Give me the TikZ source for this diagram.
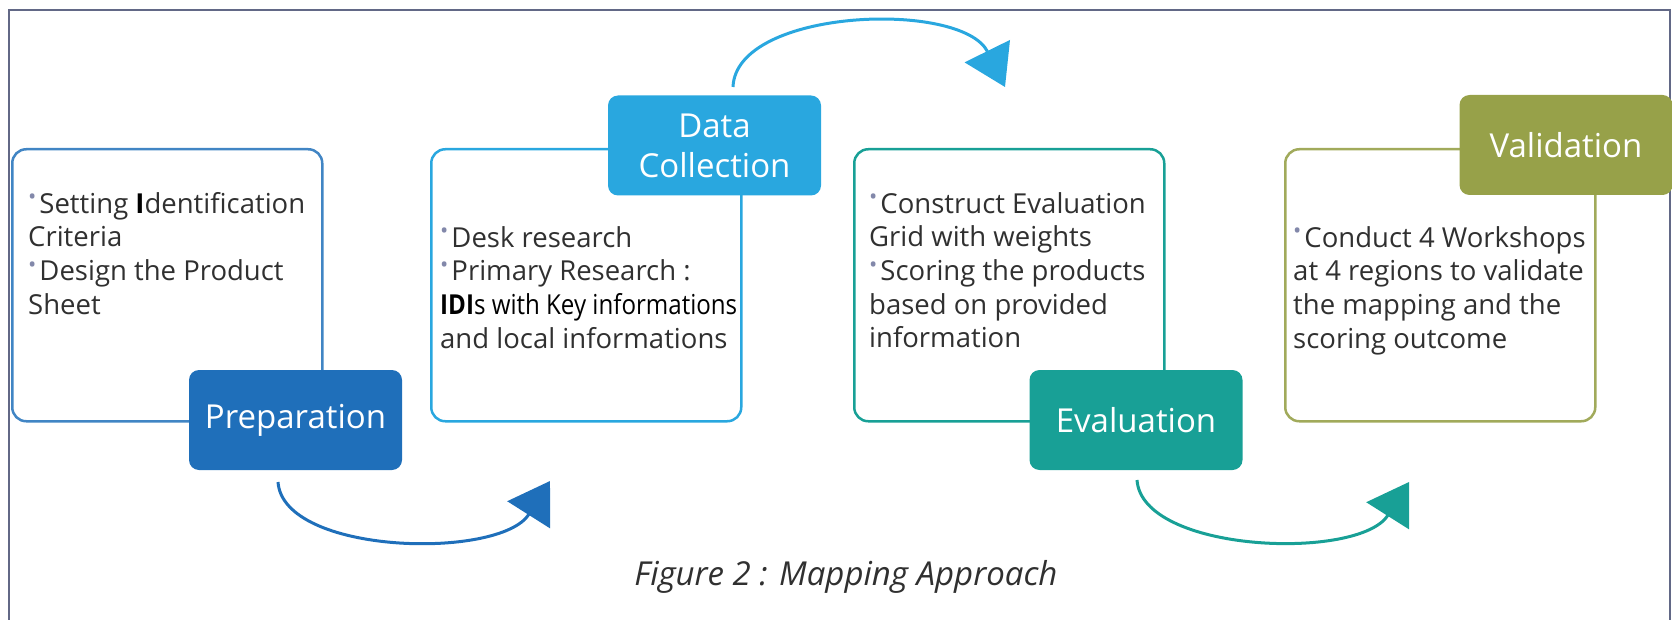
\documentclass[tikz,border=0pt]{standalone}
\usepackage{fontspec}
\setmainfont{Open Sans}
\usepackage{graphicx}
\usetikzlibrary{arrows.meta}

\definecolor{prepblue}{RGB}{31,111,186}
\definecolor{datablue}{RGB}{41,167,223}
\definecolor{evalteal}{RGB}{24,160,150}
\definecolor{validolive}{RGB}{151,161,73}
\definecolor{framegray}{RGB}{98,104,134}
\definecolor{bodygray}{RGB}{48,48,48}
\definecolor{bulletgray}{RGB}{130,136,170}

\newcommand{\bul}{{\color{bulletgray}\raisebox{0.3em}{\scalebox{0.8}{\textbullet}}}\hspace{3pt}}

\tikzset{
    outline/.style={draw=#1, line width=2.5pt, rounded corners=14pt, anchor=north west, inner sep=0pt, minimum width=310pt, minimum height=272pt},
    stagebox/.style={fill=#1, text=white, rounded corners=10pt, minimum width=213pt, minimum height=100pt, inner sep=0pt, align=center, font=\fontsize{33}{40}\selectfont},
    bodytext/.style={anchor=north west, inner sep=0pt, align=left, text=bodygray, font=\fontsize{27.5}{33.6}\selectfont},
    flowarrow/.style={draw=#1, line width=3pt, -{Triangle[width=50pt,length=40pt]}}
}

\begin{document}
\begin{tikzpicture}[x=1pt, y=-1pt]

    \useasboundingbox (0,0) rectangle (1672,620);
    \draw[framegray, line width=2pt] (9,630) -- (9,10) -- (1670,10) -- (1670,630);

    \node[outline=prepblue!85] (prepframe) at (11,148) {};
    \node[outline=datablue] (dataframe) at (430,148) {};
    \node[outline=evalteal] (evalframe) at (853,148) {};
    \node[outline=validolive!90] (validframe) at (1284,148) {};

    \node[stagebox=prepblue] (prep) at (295.5,420) {Preparation};
    \node[stagebox=datablue] (data) at (714.5,145.5) {Data\\Collection};
    \node[stagebox=evalteal] (eval) at (1136,420) {Evaluation};
    \node[stagebox=validolive] (valid) at (1566,145) {Validation};

    \node[bodytext] (preptext) at (28,189.5) {\strut\bul Setting {\bfseries\color{black}I}dentification\\Criteria\\\bul Design the Product\\Sheet};
    \node[bodytext] (datatext) at (440,223.5) {\strut\bul Desk research\\\bul Primary Research :\\{\color{black}\resizebox{297pt}{\height}{{\bfseries IDI}s with Key informations}}\\and local informations};
    \node[bodytext] (evaltext) at (869,189.5) {\strut\bul Construct Evaluation\\Grid with weights\\\bul Scoring the products\\based on provided\\information};
    \node[bodytext] (validtext) at (1293,223.5) {\strut\bul Conduct 4 Workshops\\at 4 regions to validate\\the mapping and the\\scoring outcome};

    \coordinate (prepout) at (278,482);
    \coordinate (prepin) at (550,481);
    \coordinate (dataout) at (733,87);
    \coordinate (datain) at (1005,87);
    \coordinate (evalout) at (1137,480);
    \coordinate (evalin) at (1409,482);

    \draw[flowarrow=prepblue] (prepout) .. controls +(5,73) and +(-50,79) .. (prepin);
    \draw[flowarrow=datablue] (dataout) .. controls +(3,-79) and +(-43,-87) .. (datain);
    \draw[flowarrow=evalteal] (evalout) .. controls +(5,73) and +(-50,79) .. (evalin);

    \node[anchor=base, text=bodygray, font=\itshape\fontsize{33}{40}\selectfont] (caption) at (846,585) {Figure 2 : Mapping Approach};

\end{tikzpicture}
\end{document}
